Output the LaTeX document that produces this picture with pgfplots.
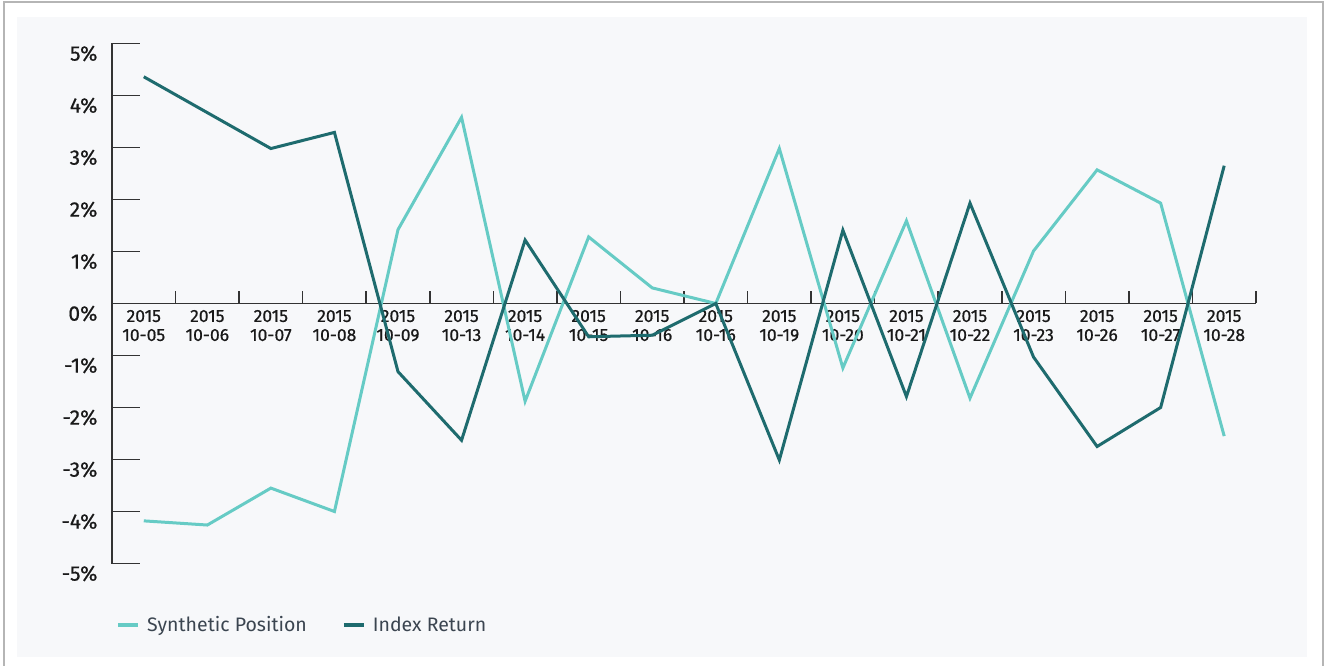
\documentclass[border=0pt]{standalone}
\usepackage{fontspec}
\setmainfont{Fira Sans}
\newfontfamily\tickfont[FakeBold=0.6]{Fira Sans}
\usepackage{pgfplots}
\usepackage{pgfplotstable}
\pgfplotsset{compat=1.18}
\definecolor{light}{HTML}{66CBC5}
\definecolor{dark}{HTML}{1E6B6E}
\definecolor{panel}{HTML}{F7F8FA}
\definecolor{axc}{HTML}{333333}
\definecolor{legtext}{HTML}{3B4550}
\definecolor{bordc}{HTML}{B5B5B5}
\pgfplotstableread{
x syn idx
0.5 -4.18 4.36
1.5 -4.26 3.67
2.5 -3.55 2.98
3.5 -4.00 3.29
4.5 1.42 -1.31
5.5 3.58 -2.63
6.5 -1.88 1.22
7.5 1.28 -0.64
8.5 0.30 -0.61
9.5 0.00 0.00
10.5 2.98 -3.01
11.5 -1.24 1.41
12.5 1.59 -1.79
13.5 -1.82 1.93
14.5 1.01 -1.03
15.5 2.57 -2.75
16.5 1.93 -2.00
17.5 -2.55 2.65
}\datatable
\begin{document}
\begin{tikzpicture}
\useasboundingbox (0,0) rectangle (1325pt,-666pt);
\fill[white] (0,0) rectangle (1325pt,-666pt);
\draw[bordc, line width=1.5pt] (4pt,-2pt) rectangle (1323pt,-690pt);
\fill[panel] (17pt,-17pt) rectangle (1307pt,-657pt);
\begin{axis}[
  at={(112pt,-563.5pt)}, anchor=south west,
  scale only axis, width=1144pt, height=520pt,
  xmin=0, xmax=18, ymin=-5, ymax=5,
  axis x line=middle, axis y line=left,
  axis line style={-, draw=axc, line width=1.6pt},
  hide obscured x ticks=false, hide obscured y ticks=false,
  tick align=inside,
  xtick={0.5,1.5,...,17.5},
  xticklabels={{2015\\10-05},{2015\\10-06},{2015\\10-07},{2015\\10-08},{2015\\10-09},{2015\\10-13},{2015\\10-14},{2015\\10-15},{2015\\10-16},{2015\\10-16},{2015\\10-19},{2015\\10-20},{2015\\10-21},{2015\\10-22},{2015\\10-23},{2015\\10-26},{2015\\10-27},{2015\\10-28}},
  major x tick style={draw=none},
  minor xtick={1,2,...,18},
  minor x tick style={draw=axc, line width=1.6pt},
  minor tick length=12pt,
  ytick={-5,-4,...,5},
  yticklabels={-5\%,-4\%,-3\%,-2\%,-1\%,0\%,1\%,2\%,3\%,4\%,5\%},
  y tick style={draw=axc, line width=1.6pt},
  major tick length=28pt,
  xticklabel style={font=\tickfont\fontsize{17.5}{19}\selectfont, align=center, text=black!90, yshift=-3pt},
  yticklabel style={font=\tickfont\fontsize{21}{24}\selectfont, text=black!90, xshift=-11pt, yshift=-10pt},
  legend columns=2,
  legend cell align=left,
  legend image code/.code={\draw[#1, line width=4pt] (0pt,0pt) -- (20pt,0pt);},
  legend style={draw=none, fill=none, at={(0.0035,-0.118)}, anchor=west, inner xsep=0pt, inner ysep=0pt,
    font=\fontsize{19.5}{22}\selectfont, text=legtext,
    /tikz/every odd column/.append style={column sep=5pt},
    /tikz/every even column/.append style={column sep=33pt}},
]
\addplot[light, line width=3pt] table[x=x, y=syn] {\datatable};
\addlegendentry{Synthetic Position}
\addplot[dark, line width=3pt] table[x=x, y=idx] {\datatable};
\addlegendentry{Index Return}
\end{axis}
\end{tikzpicture}
\end{document}
